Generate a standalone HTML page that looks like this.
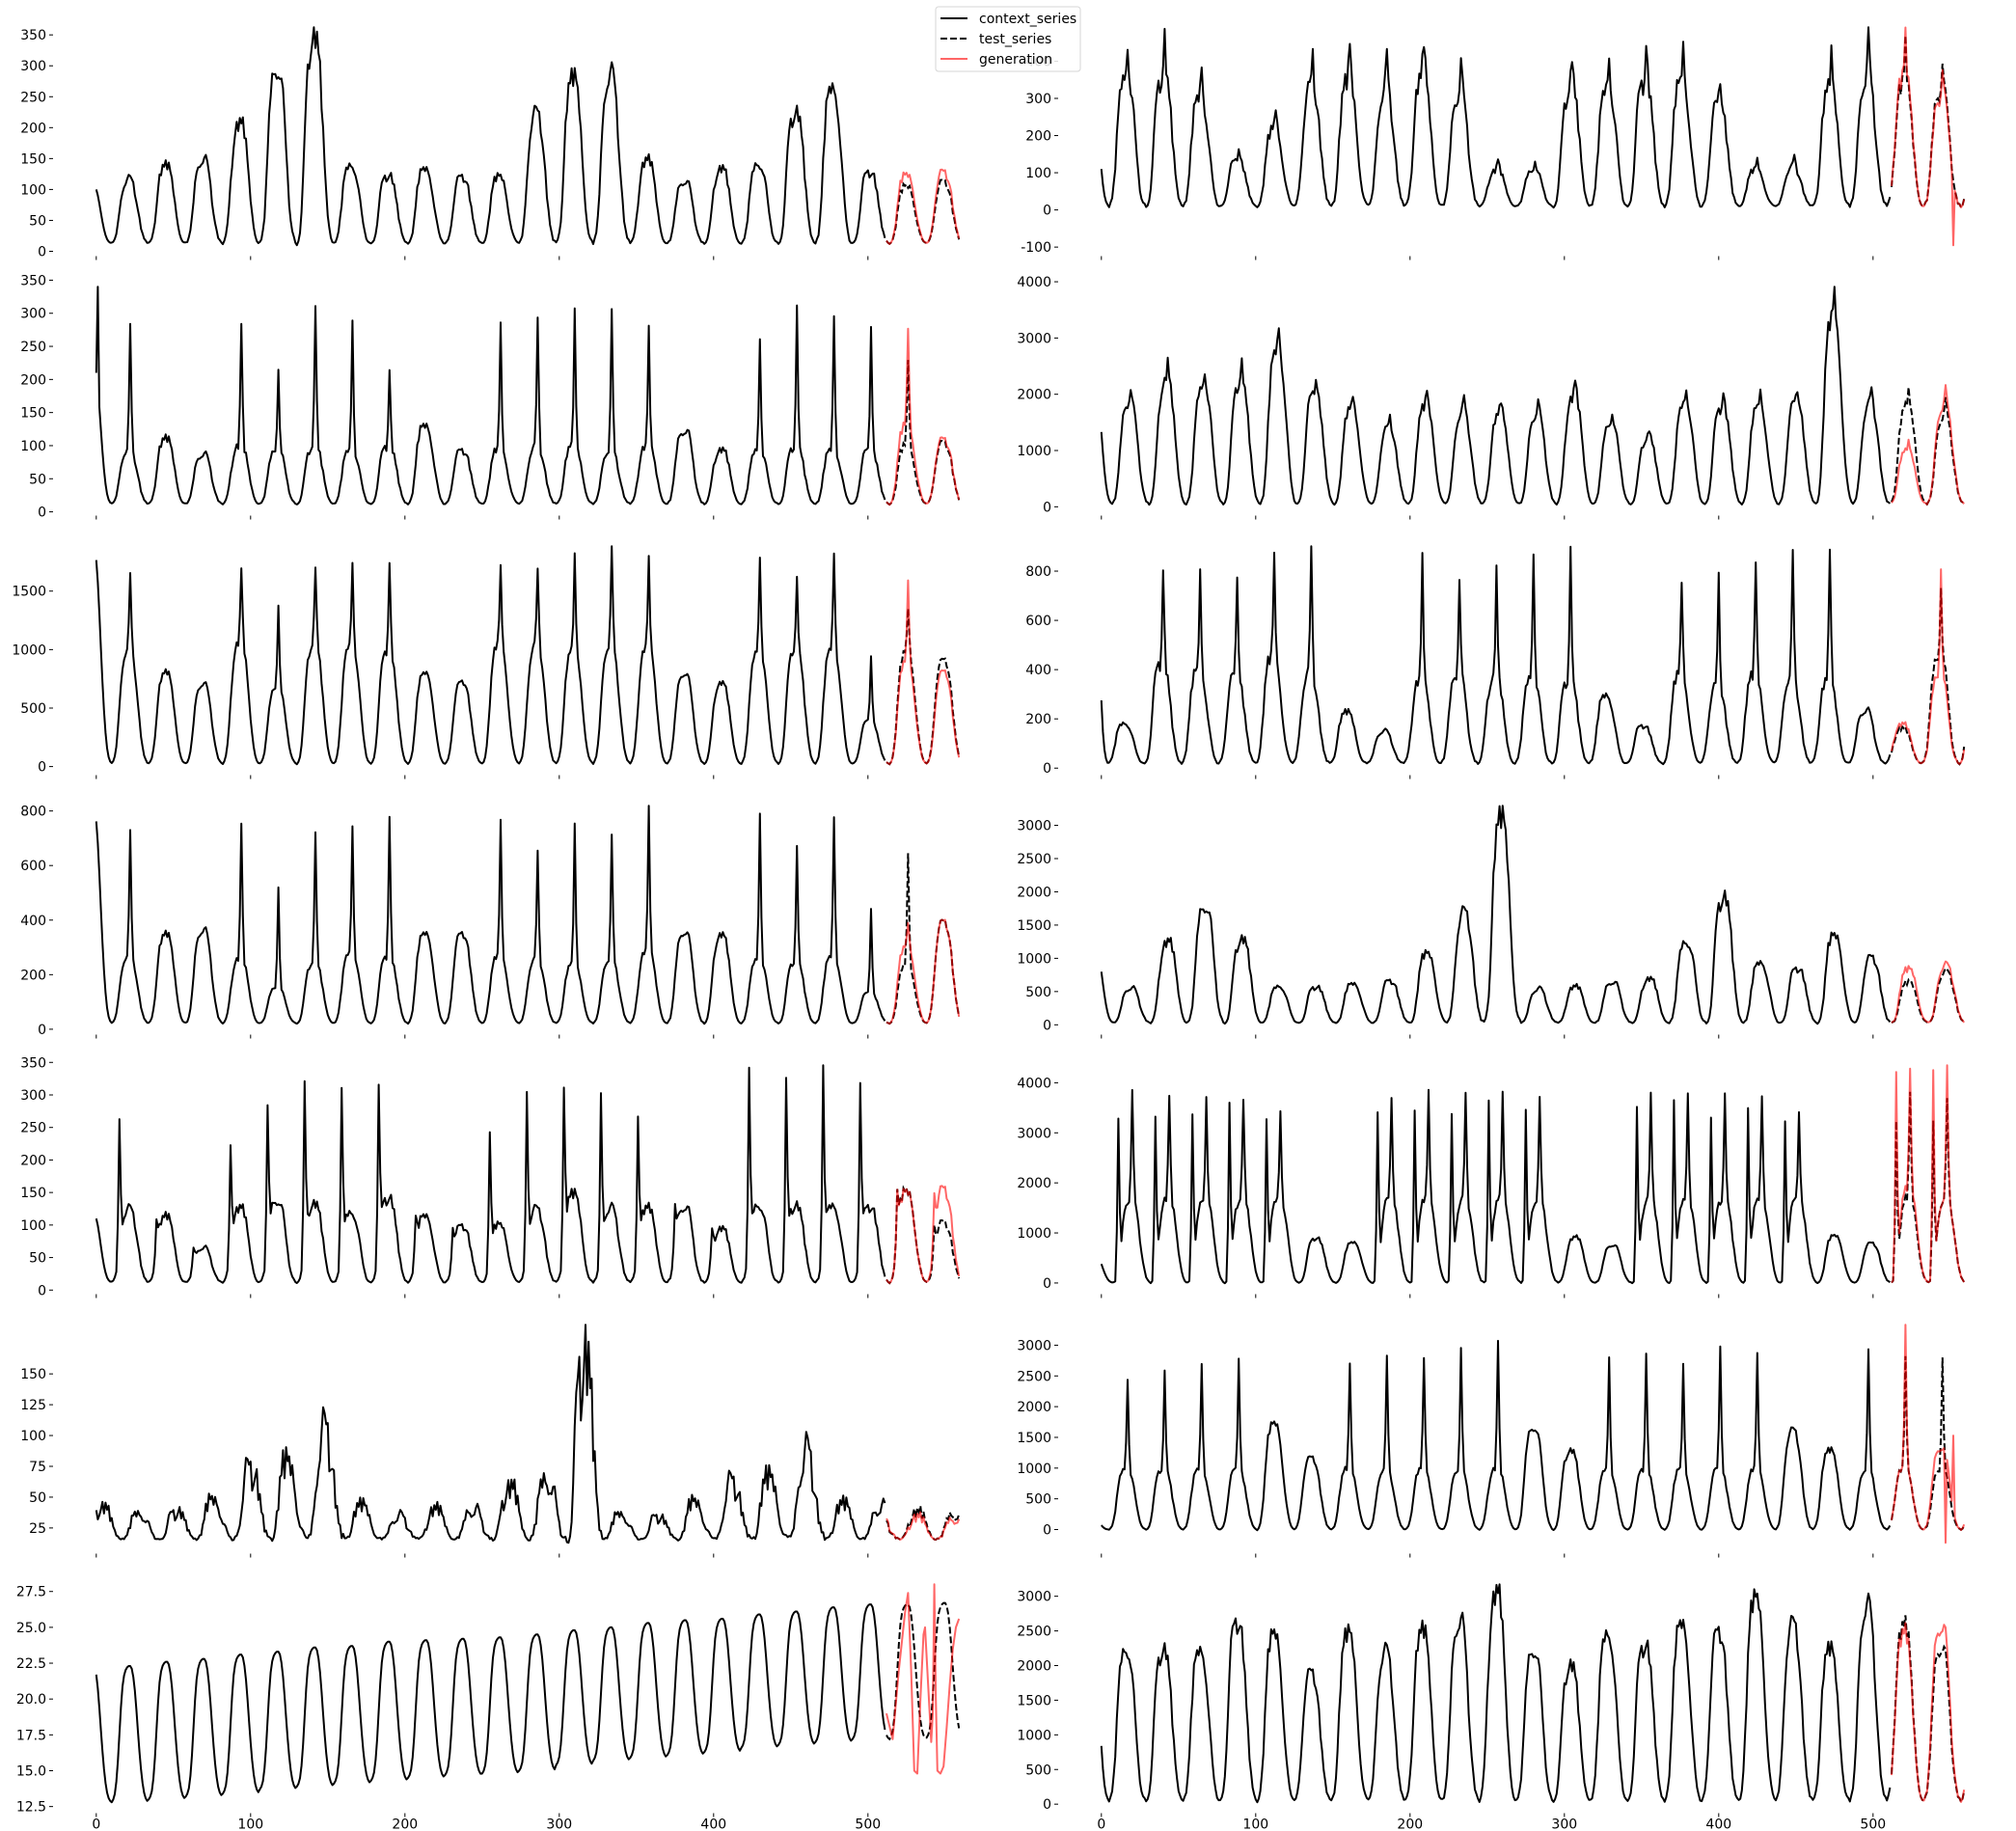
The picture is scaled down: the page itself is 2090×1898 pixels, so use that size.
<!DOCTYPE html>
<html><head><meta charset="utf-8"><style>
html,body{margin:0;padding:0;background:#fff}
svg{display:block;font-family:"DejaVu Sans","Liberation Sans",sans-serif}
</style></head>
<body>
<svg id="fig" xmlns="http://www.w3.org/2000/svg" width="2090" height="1898" viewBox="0 0 2090 1898"></svg>
<script>
// ---- shared daily shape data ----
const PROFILE=[0,0.02,0.06,0.15,0.3,0.5,0.7,0.85,0.93,0.97,0.99,1,1,0.98,0.92,0.82,0.68,0.52,0.37,0.24,0.14,0.07,0.03,0.01];
const SPIKE=[0,0,0,0,0,0,0,0,0,0,0,0.3,1,0.3,0,0,0,0,0,0,0,0,0,0];
const JITTER=[0.3,-0.5,0.8,-0.2,0.1,-0.9,0.6,0.2,-0.4,0.7,-0.6,0.1,0.4,-0.8,0.5,-0.1,0.9,-0.3,-0.7,0.2,0.6,-0.4,0.3,-0.6];
const X_TICKS=[0,100,200,300,400,500];

// ---- left column series ----
const L1_peaks=[117,137,150,205,300,344,140,123,133,121,120,224,277,288,146,115,133,143,224,265,129];
const L1_test=[105,112]; const L1_gen=[123,128];
const L1_ticks=[0,50,100,150,200,250,300,350];

const L2_peaks=[280,109,88,283,220,315,292,215,130,93,283,292,301,301,274,125,93,267,307,297,284];
const L2_levels=[95,109,88,100,95,100,95,100,130,93,95,100,100,95,100,125,93,95,100,95,95];
const L2_test=[232,104]; const L2_testLv=[100,104]; const L2_gen=[280,109]; const L2_genLv=[130,109];
const L2_ctxOverT=[1]; const L2_ctxOverV=[340];
const L2_ticks=[0,50,100,150,200,250,300,350];

const L3_peaks=[1632,800,713,1690,1397,1725,1760,1745,800,727,1703,1683,1788,1850,1760,803,713,1822,1595,1830,953];
const L3_levels=[1010,800,713,1066,685,1052,1050,1000,800,727,1050,1050,1000,1050,1030,803,713,1000,1020,1020,400];
const L3_test=[1363,911]; const L3_testLv=[980,911]; const L3_gen=[1604,812]; const L3_genLv=[897,812];
const L3_ticks=[0,500,1000,1500];

const L4_peaks=[723,345,367,752,525,728,750,780,351,351,762,652,744,704,805,360,345,801,664,780,445];
const L4_levels=[271,345,367,260,155,247,284,270,351,351,270,260,240,260,290,360,345,260,250,270,136];
const L4_test=[649,394]; const L4_testLv=[235,394]; const L4_gen=[394,394]; const L4_genLv=[300,394];
const L4_ticks=[0,200,400,600,800];

const L5_peaks=[264,112,66,221,283,318,313,315,114,99,245,307,312,301,272,130,94,337,322,340,322];
const L5_levels=[125,112,66,125,140,132,120,142,114,99,100,125,146,127,125,130,94,132,130,130,129];
const L5_test=[151,104]; const L5_gen=[150,155];
const L5_ticks=[0,50,100,150,200,250,300,350];

const L6_peaks=[41,37,38,47,73,75,103,42,35,39,41,56,66,160,36,34,45,62,63,86,43];
const L6_test=[33,37]; const L6_gen=[35,33];
const L6_ticks=[25,50,75,100,125,150];

const L7_peaks=[22.3,22.6,22.8,23.1,23.3,23.6,23.7,24.0,24.1,24.2,24.3,24.5,24.8,25.0,25.3,25.5,25.6,25.9,26.1,26.4,26.6];
const L7_troughs=[12.8,12.8,13.0,13.2,13.4,13.7,13.9,14.1,14.3,14.5,14.7,14.8,15.0,15.4,15.7,15.9,16.1,16.3,16.6,16.8,17.0,17.2,17.2,17.3];
const L7_test=[26.6,26.7];
const L7_genT=[512,516,520,524,526,528,530,532,534,536,537,539,541,542,543,544,545,547,549,551,553,555,557,559];
const L7_genV=[19,17.2,22,26,27.4,22,15,14.8,20,24.5,25,21,17,19,28,20,15,14.8,15.3,18,21,23.5,25,25.6];
const L7_ticks=[12.5,15,17.5,20,22.5,25,27.5];

// ---- right column series ----
const R1_peaks=[463,463,390,172,275,422,439,415,454,405,135,138,416,422,445,441,367,136,146,414,463];
const R1_test=[435,415]; const R1_gen=[455,397];
const R1_genOverT=[552]; const R1_genOverV=[-95];
const R1_ticks=[-100,0,100,200,300,400];

const R2_peaks=[2150,2560,2470,2550,3210,2340,1990,1610,2040,1930,1880,1900,2230,1710,1380,2120,2030,2050,2150,3820,2100];
const R2_test=[2030,1870]; const R2_gen=[1140,2080];
const R2_ticks=[0,1000,2000,3000,4000];

const R3_peaks=[183,807,797,804,859,894,225,152,846,785,804,894,880,296,173,763,785,829,870,900,237];
const R3_levels=[183,432,400,380,450,390,225,152,360,390,370,375,363,296,173,380,335,375,375,358,237];
const R3_test=[160,760]; const R3_testLv=[160,460]; const R3_gen=[177,831]; const R3_genLv=[177,385];
const R3_ticks=[0,200,400,600,800];

const R4_peaks=[560,1235,1820,1280,583,570,616,663,1060,1695,3070,546,570,654,687,1263,1915,935,851,1334,1015];
const R4_test=[630,800]; const R4_gen=[827,897];
const R4_ticks=[0,500,1000,1500,2000,2500,3000];

const R5_peaks=[3845,3730,3785,3710,3470,900,810,3785,3820,3780,3745,3650,910,765,3745,3865,3730,3750,3470,943,797];
const R5_peaksA=[3280,3310,3380,3600,3270,0,0,3420,3450,3370,3670,3450,0,0,3500,3630,3320,3480,3250,0,0];
const R5_levels=[1700,1700,1700,1700,1700,900,810,1700,1700,1700,1700,1700,910,765,1700,1700,1700,1700,1700,943,797];
const R5_test=[3800,3645]; const R5_testA=[3250,3250]; const R5_testLv=[1700,1700];
const R5_gen=[4260,4300]; const R5_genA=[4230,4260]; const R5_genLv=[1900,1700];
const R5_ticks=[0,1000,2000,3000,4000];

const R6_peaks=[2485,2555,2705,2815,1720,1170,2690,2800,2815,2950,3065,1680,1280,2825,2870,2680,3030,2850,1615,1280,2895];
const R6_levels=[1000,1000,1000,1000,1720,1170,1000,1000,1000,1000,1000,1680,1280,1000,1000,1000,1000,1000,1615,1280,1000];
const R6_test=[2770,2835]; const R6_testLv=[1000,1000]; const R6_gen=[3280,1345]; const R6_genLv=[1000,1345];
const R6_genOverT=[547,552]; const R6_genOverV=[-215,1530];
const R6_ticks=[0,500,1000,1500,2000,2500,3000];

const R7_peaks=[2255,2220,2220,2645,2445,1900,2440,2210,2475,2670,3020,2260,1995,2475,2300,2600,2500,2945,2600,2210,2880];
const R7_test=[2545,2300]; const R7_gen=[2440,2620];
const R7_ticks=[0,500,1000,1500,2000,2500,3000];

const SERIES=[
 {name:'l1',row:0,col:0,peaks:L1_peaks,test:L1_test,gen:L1_gen,trough:13,v0:100,shift:0,ratio:1,jit:0.08,ticks:L1_ticks},
 {name:'l2',row:1,col:0,peaks:L2_peaks,levels:L2_levels,test:L2_test,testLv:L2_testLv,gen:L2_gen,genLv:L2_genLv,ctxOverT:L2_ctxOverT,ctxOverV:L2_ctxOverV,trough:12,v0:210,shift:0,jit:0.08,ticks:L2_ticks},
 {name:'l3',row:2,col:0,peaks:L3_peaks,levels:L3_levels,test:L3_test,testLv:L3_testLv,gen:L3_gen,genLv:L3_genLv,trough:25,v0:1765,shift:0,jit:0.04,ticks:L3_ticks},
 {name:'l4',row:3,col:0,peaks:L4_peaks,levels:L4_levels,test:L4_test,testLv:L4_testLv,gen:L4_gen,genLv:L4_genLv,trough:22,v0:762,shift:0,jit:0.05,ticks:L4_ticks},
 {name:'l5',row:4,col:0,peaks:L5_peaks,levels:L5_levels,test:L5_test,gen:L5_gen,trough:12,v0:110,shift:0,spikeShift:-7,jit:0.08,ticks:L5_ticks},
 {name:'l6',row:5,col:0,peaks:L6_peaks,test:L6_test,gen:L6_gen,trough:16,v0:63,shift:-17,ratio:1,jit:0.3,ticks:L6_ticks},
 {name:'l7',row:6,col:0,peaks:L7_peaks,troughs:L7_troughs,test:L7_test,genT:L7_genT,genV:L7_genV,v0:21.7,shift:0,ratio:1,jit:0,ticks:L7_ticks,fmt:1},
 {name:'r1',row:0,col:1,peaks:R1_peaks,test:R1_test,gen:R1_gen,overT:R1_genOverT,overV:R1_genOverV,trough:10,v0:110,shift:-5,ratio:0.78,jit:0.1,ticks:R1_ticks},
 {name:'r2',row:1,col:1,peaks:R2_peaks,test:R2_test,gen:R2_gen,trough:50,v0:1330,shift:-3,ratio:0.87,jit:0.06,ticks:R2_ticks},
 {name:'r3',row:2,col:1,peaks:R3_peaks,levels:R3_levels,test:R3_test,testLv:R3_testLv,gen:R3_gen,genLv:R3_genLv,trough:20,v0:275,shift:-6,jit:0.08,ticks:R3_ticks},
 {name:'r4',row:3,col:1,peaks:R4_peaks,test:R4_test,gen:R4_gen,trough:30,v0:800,shift:-2,ratio:1,jit:0.08,ticks:R4_ticks},
 {name:'r5',row:4,col:1,peaks:R5_peaks,peaksA:R5_peaksA,levels:R5_levels,test:R5_test,testA:R5_testA,testLv:R5_testLv,gen:R5_gen,genA:R5_genA,genLv:R5_genLv,trough:5,v0:380,shift:-2,spikeA:-9,jit:0.05,ticks:R5_ticks},
 {name:'r6',row:5,col:1,peaks:R6_peaks,levels:R6_levels,test:R6_test,testLv:R6_testLv,gen:R6_gen,genLv:R6_genLv,overT:R6_genOverT,overV:R6_genOverV,trough:0,v0:70,shift:-5,jit:0.05,ticks:R6_ticks},
 {name:'r7',row:6,col:1,peaks:R7_peaks,test:R7_test,gen:R7_gen,trough:50,v0:840,shift:-5,ratio:1,jit:0.07,ticks:R7_ticks}
];

const NS='http://www.w3.org/2000/svg';
const svg=document.getElementById('fig');
function el(tag,attrs,parent){const e=document.createElementNS(NS,tag);for(const k in attrs)e.setAttribute(k,attrs[k]);(parent||svg).appendChild(e);return e;}

function cycleParams(S,seg,c){
  let pk,lv,pa=0;
  if(seg==='ctx'||c<=20){
    const i=Math.max(0,Math.min(20,c));
    pk=S.peaks[i]; lv=S.levels?S.levels[i]:pk*(S.ratio||1); pa=S.peaksA?S.peaksA[i]:0;
  } else {
    const i=Math.min(22,c)-21;
    const arr=seg==='test'?S.test:S.gen;
    const lvArr=seg==='test'?S.testLv:S.genLv;
    const aArr=seg==='test'?S.testA:S.genA;
    pk=arr[i]; lv=lvArr?lvArr[i]:pk*(S.ratio||1); pa=aArr?aArr[i]:0;
  }
  return {pk,lv,pa};
}
function troughAt(S,c){return S.troughs?S.troughs[Math.max(0,Math.min(S.troughs.length-1,c+1))]:S.trough;}
function kAt(q){return (q>=0&&q<24)?SPIKE[q]:0;}
function pAt(q){return PROFILE[Math.max(0,Math.min(23,q))];}
function valueAt(S,seg,t){
  const u=t-S.shift-10; const c=Math.floor(u/24); const p=((u%24)+24)%24;
  const tr=troughAt(S,c);
  if(c<0){
    const p0=(((-S.shift-10)%24)+24)%24;
    const amp=(S.v0-tr)/Math.max(PROFILE[p0],0.05);
    return tr+amp*PROFILE[p];
  }
  const cp=cycleParams(S,seg,c);
  const ss=S.spikeShift||0;
  let v=tr+(cp.lv-tr)*PROFILE[p];
  const baseAtSpike=tr+(cp.lv-tr)*pAt(12+ss);
  v+=Math.max(0,cp.pk-baseAtSpike)*kAt(p-ss);
  if(cp.pa>0){
    const sa=S.spikeA||0;
    const baseA=tr+(cp.lv-tr)*pAt(12+sa);
    v+=Math.max(0,cp.pa-baseA)*kAt(p-sa);
  }
  v+=S.jit*JITTER[(t*5+c*7)%24]*(cp.lv-tr)*(PROFILE[p]+0.15);
  return v;
}
function seriesPoints(S,seg){
  if(seg==='gen'&&S.genT){return S.genT.map((t,i)=>[t,S.genV[i]]);}
  const pts=[]; const a=seg==='ctx'?0:512, b=seg==='ctx'?511:559;
  for(let t=a;t<=b;t++){
    let v=valueAt(S,seg,t);
    if(seg==='gen'&&S.overT){const k=S.overT.indexOf(t); if(k>=0)v=S.overV[k];}
    if(seg==='ctx'&&S.ctxOverT){const k=S.ctxOverT.indexOf(t); if(k>=0)v=S.ctxOverV[k];}
    pts.push([t,v]);
  }
  return pts;
}

const AX_TOP0=17, ROW_PITCH=269, AX_H=248.5;
const COL_LEFT=[55,1097], XPX_PER=1.6, XMIN=-28, XMAX=587;

SERIES.forEach(S=>{
  const g=el('g',{});
  
  
  const ctx=seriesPoints(S,'ctx'), test=seriesPoints(S,'test'), gen=seriesPoints(S,'gen');
  let mn=Infinity,mx=-Infinity;
  [ctx,test,gen].forEach(a=>a.forEach(pv=>{mn=Math.min(mn,pv[1]);mx=Math.max(mx,pv[1]);}));
  const R=mx-mn; const y0=mn-0.05*R, y1=mx+0.05*R;
  const top=AX_TOP0+S.row*ROW_PITCH, left=COL_LEFT[S.col], bottom=top+AX_H;
  const xs=t=>left+(t-XMIN)*XPX_PER;
  const ys=v=>top+(y1-v)/(y1-y0)*AX_H;
  S.ticks.forEach(tv=>{
    if(tv<y0||tv>y1) return;
    const y=ys(tv);
    const tk=el('line',{x1:left-4,x2:left,y1:y,y2:y,stroke:'#000','stroke-width':1},g);
    
    
    const lb=el('text',{x:left-7,y:y+5,'text-anchor':'end','font-size':14,fill:'#000'},g);
    
    
    lb.textContent=S.fmt?tv.toFixed(1):String(tv);
  });
  X_TICKS.forEach(tv=>{
    const x=xs(tv);
    const tk=el('line',{x1:x,x2:x,y1:bottom,y2:bottom+4,stroke:'#000','stroke-width':1},g);
    
    
    if(S.row===6){
      const lb=el('text',{x:x,y:bottom+16,'text-anchor':'middle','font-size':14,fill:'#000'},g);
      
      
      lb.textContent=String(tv);
    }
  });
  const toPts=a=>a.map(pv=>xs(pv[0]).toFixed(1)+','+ys(pv[1]).toFixed(1)).join(' ');
  const l1=el('polyline',{points:toPts(ctx),fill:'none',stroke:'#000','stroke-width':2,'stroke-linejoin':'round'},g);
  
  
  const l2=el('polyline',{points:toPts(test),fill:'none',stroke:'#000','stroke-width':2,'stroke-dasharray':'7,3'},g);
  
  
  const l3=el('polyline',{points:toPts(gen),fill:'none',stroke:'#ff0000','stroke-opacity':0.6,'stroke-width':2,'stroke-linejoin':'round'},g);
  
  
});

const lg=el('g',{});


el('rect',{x:970,y:7,width:150,height:67,rx:3,fill:'#fff','fill-opacity':0.85,stroke:'#d6d6d6','stroke-width':1},lg);
const LEG_LABELS=['context_series','test_series','generation'];
const LEG_STYLES=[{stroke:'#000'},{stroke:'#000',dash:'7,3'},{stroke:'#ff0000',op:0.6}];
LEG_LABELS.forEach((lab,i)=>{
  const y=19+i*21;
  const ln=el('line',{x1:975,x2:1003,y1:y,y2:y,stroke:LEG_STYLES[i].stroke,'stroke-width':2},lg);
  if(LEG_STYLES[i].dash) ln.setAttribute('stroke-dasharray',LEG_STYLES[i].dash);
  if(LEG_STYLES[i].op) ln.setAttribute('stroke-opacity',LEG_STYLES[i].op);
  
  
  const tx=el('text',{x:1015,y:y+5,'font-size':14,fill:'#000'},lg);
  
  
  tx.textContent=lab;
});
</script>
</body></html>
